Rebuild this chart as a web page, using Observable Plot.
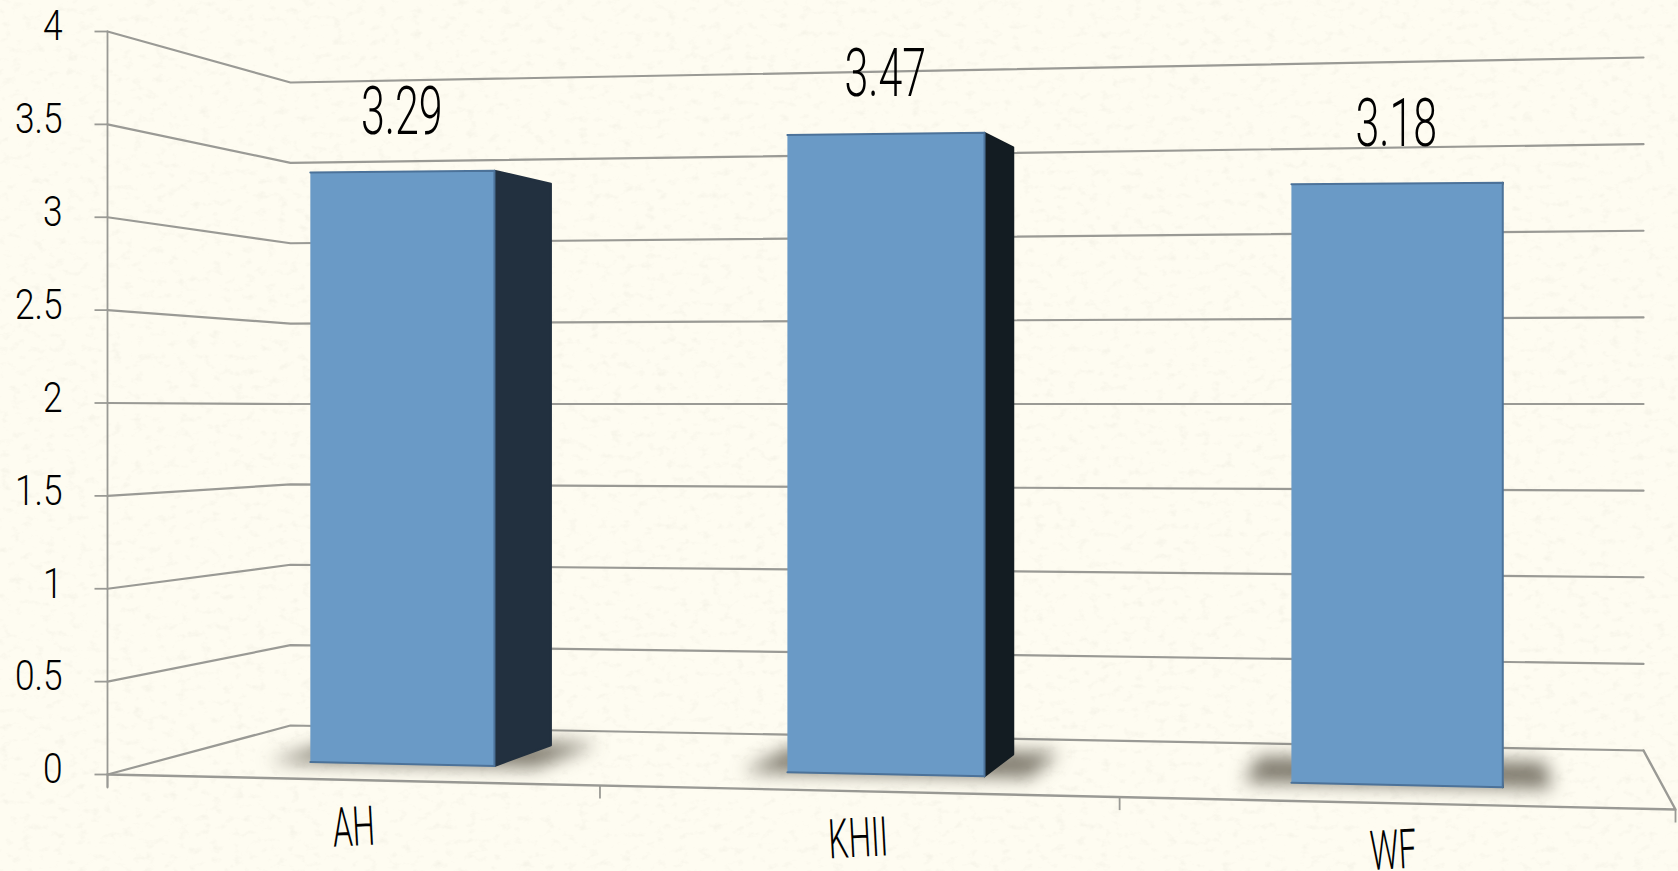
<!DOCTYPE html>
<html>
<head>
<meta charset="utf-8">
<script src="https://cdn.jsdelivr.net/npm/d3@7"></script>
<script src="https://cdn.jsdelivr.net/npm/@observablehq/plot@0.6"></script>
<style>
  html, body { margin: 0; padding: 0; width: 1678px; height: 871px; overflow: hidden; background: #fefcf1; }
  #paper { position: absolute; left: 0; top: 0; }
  #chart { position: absolute; left: 0; top: 0; }
</style>
</head>
<body>
<svg id="paper" width="1678" height="871">
  <filter id="grain" x="0" y="0" width="100%" height="100%">
    <feTurbulence type="fractalNoise" baseFrequency="0.09 0.13" numOctaves="4" seed="7"/>
    <feColorMatrix values="0 0 0 0 .52  0 0 0 0 .50  0 0 0 0 .42  0 0 0 1.7 -0.95"/>
  </filter>
  <rect width="1678" height="871" filter="url(#grain)" opacity="0.2"/>
</svg>
<div id="chart"></div>
<script>
// Chart values
const categories = ["AH", "KHII", "WF"];
const scores = [3.29, 3.47, 3.18];
const valueTicks = [0, 0.5, 1, 1.5, 2, 2.5, 3, 3.5, 4];
const tickLabels = ["0", "0.5", "1", "1.5", "2", "2.5", "3", "3.5", "4"];

// Category band edges and bar centres along the floor's front edge (0 = left, 1 = right)
const bandEdges = [0, 0.338, 0.67, 1];
const barCentres = [0.172, 0.506, 0.8355];

// Floor corners on the page: front-left, front-right, back-left, back-right
const corner = {fl: [107, 774], fr: [1675, 809], bl: [290, 725], br: [1643, 750]};
// Height of one axis unit at the same four corners
const unit = {fl: 185.75, fr: 200, bl: 160.75, br: 173.25};

// Square-to-quad homography for the floor
const dx1 = corner.fr[0] - corner.br[0], dx2 = corner.bl[0] - corner.br[0];
const dy1 = corner.fr[1] - corner.br[1], dy2 = corner.bl[1] - corner.br[1];
const sx = corner.fl[0] - corner.fr[0] + corner.br[0] - corner.bl[0];
const sy = corner.fl[1] - corner.fr[1] + corner.br[1] - corner.bl[1];
const den = dx1 * dy2 - dx2 * dy1;
const g = (sx * dy2 - dx2 * sy) / den;
const h = (dx1 * sy - sx * dy1) / den;

// Maps (along, depth, value) to page coordinates in perspective
function project(u, d, v = 0) {
  const w = 1 + g * u + h * d;
  const x = (corner.fl[0] + u * (corner.fr[0] * (1 + g) - corner.fl[0]) + d * (corner.bl[0] * (1 + h) - corner.fl[0])) / w;
  const y = (corner.fl[1] + u * (corner.fr[1] * (1 + g) - corner.fl[1]) + d * (corner.bl[1] * (1 + h) - corner.fl[1])) / w;
  const front = (1 - u) / unit.fl + u / unit.fr;
  const back = (1 - u) / unit.bl + u / unit.br;
  return {x, y: y - v / ((1 - d) * front + d * back)};
}

const barHalfWidth = 0.0658;
const barDepth = [0.285, 0.69];
const shadowDepth = [0.28, 0.74];
const shadowOverhang = 0.03;
const sideShades = ["#22303f", "#131c22", "#1b262e"];

const polygon = (key, corners) => corners.map(([u, d, v]) => ({key, ...project(u, d, v)}));

const gridLines = valueTicks.flatMap((v) => [[0, 0], [0, 1], [1, 1]].map(([u, d]) => ({key: v, ...project(u, d, v)})));
const floorEdges = [[0, 0], [1, 0], [1, 1]].map(([u, d]) => project(u, d));
const valueAxis = [project(0, 0, 4), {...project(0, 0), y: project(0, 0).y + 13}];
const valueTickMarks = valueTicks.map((v) => project(0, 0, v));
const bandTicks = bandEdges.map((u) => project(u, 0));

const frontFaces = categories.flatMap((c, i) => {
  const a = barCentres[i] - barHalfWidth, b = barCentres[i] + barHalfWidth, d = barDepth[0], v = scores[i];
  return polygon(c, [[a, d, 0], [b, d, 0], [b, d, v], [a, d, v]]);
});
const sideFaces = categories.flatMap((c, i) => {
  const b = barCentres[i] + barHalfWidth, v = scores[i];
  return polygon(i, [[b, barDepth[0], 0], [b, barDepth[1], 0], [b, barDepth[1], v], [b, barDepth[0], v]]);
});
const shadows = categories.flatMap((c, i) => {
  const a = barCentres[i] - barHalfWidth - shadowOverhang, b = barCentres[i] + barHalfWidth + shadowOverhang;
  return polygon(c, [[a, shadowDepth[0]], [b, shadowDepth[0]], [b, shadowDepth[1]], [a, shadowDepth[1]]]);
});
const scoreLabels = categories.map((c, i) => ({text: String(scores[i]), ...project(barCentres[i], barDepth[0], scores[i])}));
const categoryLabels = categories.map((c, i) => ({text: c, ...project(barCentres[i], 0)}));
const axisLabels = valueTicks.map((v, i) => ({text: tickLabels[i], ...project(0, 0, v)}));

const lineColor = "#9a9a95";
const inkFont = "Roboto, 'Liberation Sans', sans-serif";

const chart = Plot.plot({
  width: 1678,
  height: 871,
  margin: 0,
  style: {background: "transparent"},
  x: {domain: [0, 1678], range: [0, 1678], axis: null},
  y: {domain: [0, 871], range: [0, 871], axis: null},
  marks: [
    Plot.line(gridLines, {x: "x", y: "y", z: "key", stroke: lineColor, strokeWidth: 2.2}),
    Plot.line(floorEdges, {x: "x", y: "y", stroke: lineColor, strokeWidth: 2.4}),
    Plot.line(valueAxis, {x: "x", y: "y", stroke: lineColor, strokeWidth: 1.8}),
    Plot.link(valueTickMarks, {x1: (p) => p.x - 13, x2: "x", y1: "y", y2: "y", stroke: lineColor, strokeWidth: 1.8}),
    Plot.link(bandTicks, {x1: "x", x2: "x", y1: "y", y2: (p) => p.y + 13, stroke: lineColor, strokeWidth: 1.8}),
    Plot.line(shadows, {x: "x", y: "y", z: "key", fill: "#3f392c", fillOpacity: 0.68, stroke: "none", imageFilter: "blur(9px)"}),
    Plot.line(sideFaces, {x: "x", y: "y", z: "key", fill: (p) => sideShades[p.key], stroke: (p) => sideShades[p.key], strokeWidth: 2, strokeLinejoin: "round"}),
    Plot.line(frontFaces, {x: "x", y: "y", z: "key", fill: "#6a9ac6", stroke: "#4c7299", strokeWidth: 2, strokeLinejoin: "round"}),
    Plot.text(scoreLabels, {x: "x", y: "y", text: "text", dy: -59, fontSize: 66, fontWeight: 300, fontFamily: inkFont, fill: "#000"}),
    Plot.text(categoryLabels, {x: "x", y: "y", text: "text", dy: 48, rotate: -3, fontSize: 55, fontWeight: 300, fontFamily: inkFont, fill: "#000"}),
    Plot.text(axisLabels, {x: "x", y: "y", text: "text", dx: -45, dy: -5, textAnchor: "end", fontSize: 43, fontWeight: 300, fontFamily: inkFont, fill: "#000"})
  ]
});
document.getElementById("chart").appendChild(chart);

// Narrow the glyphs so the labels keep their tall, thin pen-written proportions
const labelGroups = chart.querySelectorAll('g[aria-label="text"]');
[0.65, 0.58, 0.82].forEach((factor, i) => {
  labelGroups[i].querySelectorAll("text").forEach((label) => {
    label.setAttribute("textLength", label.getComputedTextLength() * factor);
    label.setAttribute("lengthAdjust", "spacingAndGlyphs");
  });
});
</script>
</body>
</html>
